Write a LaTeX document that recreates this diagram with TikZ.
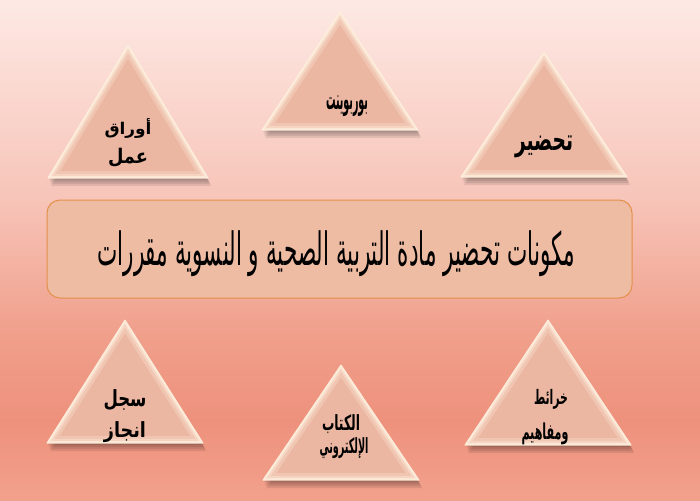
\documentclass[tikz,border=0pt]{standalone}
\usepackage{fontspec}
\usepackage{graphicx}
\TeXXeTstate=1
\newfontfamily\arb[Script=Arabic]{DejaVu Sans}
\definecolor{bgA}{HTML}{FDE9E4}
\definecolor{bgB}{HTML}{F7C4B8}
\definecolor{bgC}{HTML}{F0A08C}
\definecolor{bgD}{HTML}{EE917C}
\definecolor{bgE}{HTML}{F2A18D}
\definecolor{peach}{HTML}{EBB7A2}
\definecolor{cream}{HTML}{FFF3E2}
\definecolor{boxfill}{HTML}{EEBBA3}
\definecolor{boxline}{HTML}{E3904A}
\newcommand\ArTri[4]{%
  \foreach \s in {2,4,6,8}{%
    \fill[black,opacity=0.09,shift={(0.4*\s,\s)}] (#1,#2) -- (#1+#3,#4) -- (#1-#3,#4) -- cycle;}
  \fill[peach] (#1,#2) -- (#1+#3,#4) -- (#1-#3,#4) -- cycle;
  \begin{scope}
    \clip (#1,#2) -- (#1+#3,#4) -- (#1-#3,#4) -- cycle;
    \draw[cream,opacity=0.25,line width=14pt,line join=round] (#1,#2) -- (#1+#3,#4) -- (#1-#3,#4) -- cycle;
    \draw[cream,opacity=0.35,line width=8pt,line join=round] (#1,#2) -- (#1+#3,#4) -- (#1-#3,#4) -- cycle;
    \draw[cream,opacity=0.6,line width=4pt,line join=round] (#1,#2) -- (#1+#3,#4) -- (#1-#3,#4) -- cycle;
  \end{scope}
  \draw[cream,opacity=0.8,line width=1pt,line join=round] (#1,#2) -- (#1+#3,#4) -- (#1-#3,#4) -- cycle;
}
\tikzset{
  lbl/.style={font=\arb\bfseries\fontsize{17}{19}\selectfont,text=black,inner sep=0pt},
  ttl/.style={font=\arb\fontsize{22}{26}\selectfont,text=black,inner sep=0pt},
  titlebox/.style={draw=boxline,fill=boxfill,line width=1pt,rounded corners=13pt},
}
\begin{document}
\begin{tikzpicture}[x=1pt,y=-1pt]
\useasboundingbox (0,0) rectangle (700,500);
% background
\shade[top color=bgA,bottom color=bgB] (0,-1) rectangle (700,201);
\shade[top color=bgB,bottom color=bgC] (0,200) rectangle (700,331);
\shade[top color=bgC,bottom color=bgD] (0,330) rectangle (700,421);
\shade[top color=bgD,bottom color=bgE] (0,420) rectangle (700,501);
% triangles
\ArTri{128}{45}{80}{178}
\ArTri{340}{12}{78}{130}
\ArTri{544}{52}{83}{177}
\ArTri{125}{320}{78}{443}
\ArTri{341}{365}{78}{480}
\ArTri{548}{320}{83}{445}
% title box
\draw[titlebox] (47,200) rectangle (632,298);
\node[ttl] (title) at (336,254)
  {\resizebox*{477pt}{46pt}{\beginR مكونات تحضير مادة التربية الصحية و النسوية مقررات\endR}};
% labels
\node[lbl] (awraq1) at (128,128) {\resizebox*{47pt}{20pt}{\beginR أوراق\endR}};
\node[lbl] (awraq2) at (128,158) {\resizebox*{40pt}{19pt}{\beginR عمل\endR}};
\node[lbl] (power) at (347,106) {\resizebox*{42pt}{21pt}{\beginR بوربوينت\endR}};
\node[lbl] (tahdir) at (544,147) {\resizebox*{58pt}{22pt}{\beginR تحضير\endR}};
\node[lbl] (sijil1) at (125,400) {\resizebox*{43pt}{21pt}{\beginR سجل\endR}};
\node[lbl] (sijil2) at (125,432) {\resizebox*{42pt}{21pt}{\beginR انجاز\endR}};
\node[lbl] (kitab1) at (341,424) {\resizebox*{38pt}{19pt}{\beginR الكتاب\endR}};
\node[lbl] (kitab2) at (344,448) {\resizebox*{49pt}{21pt}{\beginR الإلكتروني\endR}};
\node[lbl] (khara1) at (551,399) {\resizebox*{34pt}{20pt}{\beginR خرائط\endR}};
\node[lbl] (khara2) at (545,434) {\resizebox*{47pt}{22pt}{\beginR ومفاهيم\endR}};
\end{tikzpicture}
\end{document}
